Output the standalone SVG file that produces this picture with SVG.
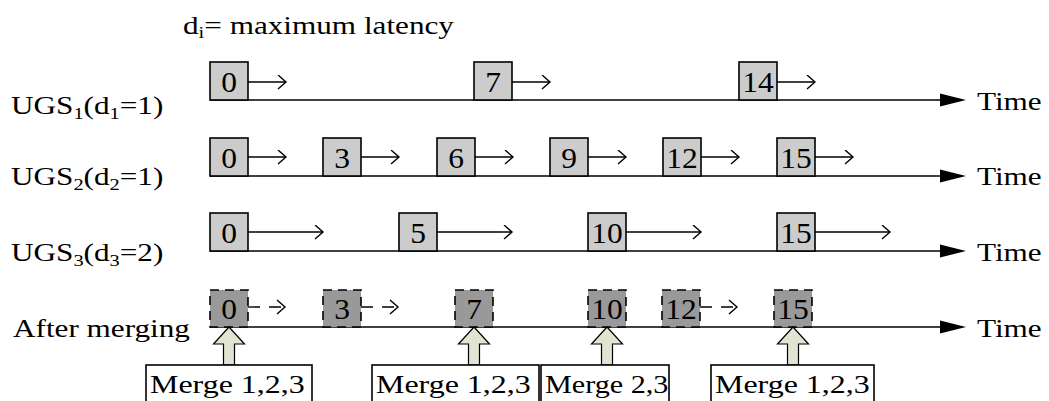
<svg xmlns="http://www.w3.org/2000/svg" width="1049" height="401" viewBox="0 0 1049 401">
  <style>
    .sub { font-size: 17px; }
    .num { font-size: 30px; text-anchor: middle; }
    .axis { stroke: #000; stroke-width: 1.6; fill: none; }
    .pkt { fill: #cccccc; stroke: #000; stroke-width: 1.6; }
    .mrg { fill: #999999; stroke: #000; stroke-width: 1.6; stroke-dasharray: 9 6; }
    .lat { stroke: #000; stroke-width: 1.4; fill: none; marker-end: url(#open); }
    .latd { stroke: #000; stroke-width: 1.4; fill: none; stroke-dasharray: 12 9; }
    .up { fill: #e2e4d2; stroke: #000; stroke-width: 1.2; }
    .lbl { fill: #fff; stroke: #000; stroke-width: 1.6; }
  </style>
  <defs>
    <marker id="open" markerWidth="12" markerHeight="16" refX="9" refY="7" orient="auto" markerUnits="userSpaceOnUse">
      <path d="M1,0 L9,7 L1,14" fill="none" stroke="#000" stroke-width="1.4"/>
    </marker>
    <polygon id="head" points="0,-6.5 26,0 0,6.5" fill="#000"/>
  </defs>

  <g font-family="'Liberation Serif', 'Times New Roman', serif" font-size="26" fill="#000">
  <!-- legend -->
  <text transform="translate(183,34) scale(1.2,1)">d<tspan class="sub" dy="4">i</tspan><tspan dy="-4">= maximum latency</tspan></text>

  <!-- row labels -->
  <text transform="translate(11,114) scale(1.2,1)">UGS<tspan class="sub" dy="5">1</tspan><tspan dy="-5">(d</tspan><tspan class="sub" dy="5">1</tspan><tspan dy="-5">=1)</tspan></text>
  <text transform="translate(11,185) scale(1.2,1)">UGS<tspan class="sub" dy="5">2</tspan><tspan dy="-5">(d</tspan><tspan class="sub" dy="5">2</tspan><tspan dy="-5">=1)</tspan></text>
  <text transform="translate(11,261) scale(1.2,1)">UGS<tspan class="sub" dy="5">3</tspan><tspan dy="-5">(d</tspan><tspan class="sub" dy="5">3</tspan><tspan dy="-5">=2)</tspan></text>
  <text transform="translate(13,337) scale(1.2,1)">After merging</text>

  <!-- time axes -->
  <g id="axes">
    <line class="axis" x1="210" y1="100" x2="942" y2="100"/>
    <use href="#head" x="940" y="100"/>
    <text transform="translate(977,110) scale(1.2,1)">Time</text>
    <line class="axis" x1="210" y1="176" x2="942" y2="176"/>
    <use href="#head" x="940" y="176"/>
    <text transform="translate(977,185) scale(1.2,1)">Time</text>
    <line class="axis" x1="210" y1="251" x2="942" y2="251"/>
    <use href="#head" x="940" y="251"/>
    <text transform="translate(977,261) scale(1.2,1)">Time</text>
    <line class="axis" x1="210" y1="327" x2="942" y2="327"/>
    <use href="#head" x="940" y="327"/>
    <text transform="translate(977,337) scale(1.2,1)">Time</text>
  </g>

  <!-- latency connectors -->
  <g id="connectors">
    <line class="lat" x1="248" y1="82" x2="286" y2="82"/>
    <line class="lat" x1="512" y1="82" x2="550" y2="82"/>
    <line class="lat" x1="777" y1="82" x2="815" y2="82"/>

    <line class="lat" x1="248" y1="157" x2="286" y2="157"/>
    <line class="lat" x1="361" y1="157" x2="399" y2="157"/>
    <line class="lat" x1="475" y1="157" x2="513" y2="157"/>
    <line class="lat" x1="588" y1="157" x2="626" y2="157"/>
    <line class="lat" x1="701" y1="157" x2="739" y2="157"/>
    <line class="lat" x1="815" y1="157" x2="853" y2="157"/>

    <line class="lat" x1="248" y1="232" x2="323" y2="232"/>
    <line class="lat" x1="437" y1="232" x2="512" y2="232"/>
    <line class="lat" x1="626" y1="232" x2="701" y2="232"/>
    <line class="lat" x1="815" y1="232" x2="890" y2="232"/>

    <line class="latd" x1="248" y1="307" x2="281" y2="307"/>
    <path d="M277,300 L285,307 L277,314" fill="none" stroke="#000" stroke-width="1.4"/>
    <line class="latd" x1="361" y1="307" x2="394" y2="307"/>
    <path d="M390,300 L398,307 L390,314" fill="none" stroke="#000" stroke-width="1.4"/>
    <line class="latd" x1="700" y1="307" x2="733" y2="307"/>
    <path d="M729,300 L737,307 L729,314" fill="none" stroke="#000" stroke-width="1.4"/>
  </g>

  <!-- UGS1 grants -->
  <g id="u1-0"><rect class="pkt" x="210" y="62" width="38" height="38"/><text class="num" transform="translate(229,92) scale(1.05,1)">0</text></g>
  <g id="u1-7"><rect class="pkt" x="474" y="62" width="38" height="38"/><text class="num" transform="translate(493,92) scale(1.05,1)">7</text></g>
  <g id="u1-14"><rect class="pkt" x="739" y="62" width="38" height="38"/><text class="num" transform="translate(758,92) scale(1.05,1)">14</text></g>

  <!-- UGS2 grants -->
  <g id="u2-0"><rect class="pkt" x="210" y="138" width="38" height="38"/><text class="num" transform="translate(229,168) scale(1.05,1)">0</text></g>
  <g id="u2-3"><rect class="pkt" x="323" y="138" width="38" height="38"/><text class="num" transform="translate(342,168) scale(1.05,1)">3</text></g>
  <g id="u2-6"><rect class="pkt" x="437" y="138" width="38" height="38"/><text class="num" transform="translate(456,168) scale(1.05,1)">6</text></g>
  <g id="u2-9"><rect class="pkt" x="550" y="138" width="38" height="38"/><text class="num" transform="translate(569,168) scale(1.05,1)">9</text></g>
  <g id="u2-12"><rect class="pkt" x="663" y="138" width="38" height="38"/><text class="num" transform="translate(682,168) scale(1.05,1)">12</text></g>
  <g id="u2-15"><rect class="pkt" x="777" y="138" width="38" height="38"/><text class="num" transform="translate(796,168) scale(1.05,1)">15</text></g>

  <!-- UGS3 grants -->
  <g id="u3-0"><rect class="pkt" x="210" y="213" width="38" height="38"/><text class="num" transform="translate(229,243) scale(1.05,1)">0</text></g>
  <g id="u3-5"><rect class="pkt" x="399" y="213" width="38" height="38"/><text class="num" transform="translate(418,243) scale(1.05,1)">5</text></g>
  <g id="u3-10"><rect class="pkt" x="588" y="213" width="38" height="38"/><text class="num" transform="translate(607,243) scale(1.05,1)">10</text></g>
  <g id="u3-15"><rect class="pkt" x="777" y="213" width="38" height="38"/><text class="num" transform="translate(796,243) scale(1.05,1)">15</text></g>

  <!-- merged grants -->
  <g id="m-0"><rect class="mrg" x="210" y="290" width="38" height="37"/><text class="num" transform="translate(229,319) scale(1.05,1)">0</text></g>
  <g id="m-3"><rect class="mrg" x="323" y="290" width="38" height="37"/><text class="num" transform="translate(342,319) scale(1.05,1)">3</text></g>
  <g id="m-7"><rect class="mrg" x="455" y="290" width="38" height="37"/><text class="num" transform="translate(474,319) scale(1.05,1)">7</text></g>
  <g id="m-10"><rect class="mrg" x="588" y="290" width="38" height="37"/><text class="num" transform="translate(607,319) scale(1.05,1)">10</text></g>
  <g id="m-12"><rect class="mrg" x="662" y="290" width="38" height="37"/><text class="num" transform="translate(681,319) scale(1.05,1)">12</text></g>
  <g id="m-15"><rect class="mrg" x="774" y="290" width="38" height="37"/><text class="num" transform="translate(793,319) scale(1.05,1)">15</text></g>

  <!-- merge annotations -->
  <g id="merge-a">
    <path class="up" d="M229,327 L244.5,344 L234.5,344 L234.5,365 L223.5,365 L223.5,344 L213.5,344 Z"/>
    <rect class="lbl" x="146" y="365" width="166" height="44"/>
    <text transform="translate(150,393) scale(1.23,1)">Merge 1,2,3</text>
  </g>
  <g id="merge-b">
    <path class="up" d="M474,327 L489.5,344 L479.5,344 L479.5,365 L468.5,365 L468.5,344 L458.5,344 Z"/>
    <rect class="lbl" x="372" y="365" width="167" height="44"/>
    <text transform="translate(376,393) scale(1.23,1)">Merge 1,2,3</text>
  </g>
  <g id="merge-c">
    <path class="up" d="M607,327 L622.5,344 L612.5,344 L612.5,365 L601.5,365 L601.5,344 L591.5,344 Z"/>
    <rect class="lbl" x="541" y="365" width="128" height="44"/>
    <text transform="translate(545,393) scale(1.16,1)">Merge 2,3</text>
  </g>
  <g id="merge-d">
    <path class="up" d="M793,327 L808.5,344 L798.5,344 L798.5,365 L787.5,365 L787.5,344 L777.5,344 Z"/>
    <rect class="lbl" x="711" y="365" width="163" height="44"/>
    <text transform="translate(715,393) scale(1.23,1)">Merge 1,2,3</text>
  </g>
  </g>
</svg>
